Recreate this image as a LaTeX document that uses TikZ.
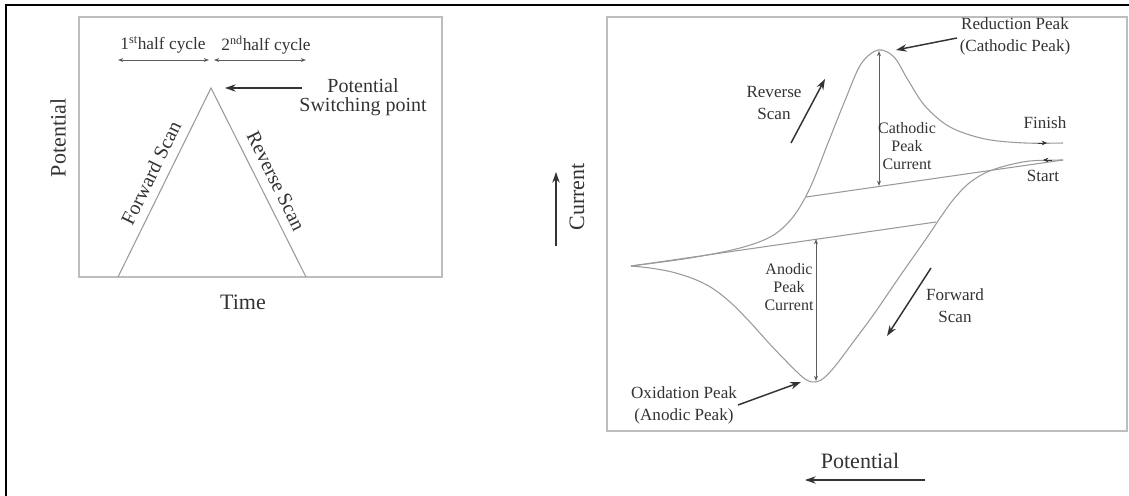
\documentclass[tikz,border=0pt]{standalone}
\usepackage{fontspec}
\setmainfont{Liberation Serif}
\usetikzlibrary{arrows.meta}
\definecolor{txt}{HTML}{333333}
\definecolor{curvec}{HTML}{9A9A9A}
\definecolor{boxc}{HTML}{BDBDBD}
\definecolor{arrc}{HTML}{333333}
\begin{document}
\begin{tikzpicture}[x=0.75pt,y=-0.75pt,
  biglbl/.style={text=txt,font=\fontsize{16.5}{18}\selectfont,inner sep=0},
  midlbl/.style={text=txt,font=\fontsize{15}{14.3}\selectfont,inner sep=0,align=center},
  smllbl/.style={text=txt,font=\fontsize{12.8}{16.5}\selectfont,inner sep=0,align=center},
  tinylbl/.style={text=txt,font=\fontsize{12}{13.5}\selectfont,inner sep=0,align=center},
  hclbl/.style={text=txt,font=\fontsize{13}{14}\selectfont,inner sep=0},
  panelbox/.style={draw=boxc,line width=1.5pt},
  curveline/.style={draw=curvec,line width=0.8pt},
  annot/.style={draw=arrc,line width=1.1pt,-{Stealth[length=8pt,width=5.5pt]}},
  dimarrow/.style={draw=arrc!80!white,line width=0.7pt,{Stealth[length=4pt,width=3pt]}-{Stealth[length=4pt,width=3pt]}},
  smallmark/.style={draw=arrc,line width=0.7pt,-{Stealth[length=4pt,width=3.5pt]}}
]
\useasboundingbox (0,0) rectangle (1129,496);
% outer frame
\draw[black,line width=1.6pt] (6,496) -- (6,5) -- (1129,5);

% ---------------- left panel ----------------
\draw[panelbox] (79,17) rectangle (442,277);
\coordinate (tl) at (118,277);
\coordinate (tt) at (211,88);
\coordinate (tr) at (306,277);
\draw[curveline] (tl) -- (tt) -- (tr);

\coordinate (h1a) at (118,60);
\coordinate (h1b) at (209,60);
\coordinate (h2a) at (214,60);
\coordinate (h2b) at (306,60);
\draw[dimarrow] (h1a) -- (h1b);
\draw[dimarrow] (h2a) -- (h2b);
\node[hclbl] (hc1) at (163,45) {1\textsuperscript{st}half cycle};
\node[hclbl] (hc2) at (266,45) {2\textsuperscript{nd}half cycle};

\node[midlbl] (psp) at (363,97) {Potential\\Switching point};
\coordinate (pspA) at (302,88);
\coordinate (pspB) at (225,88);
\draw[annot] (pspA) -- (pspB);

\node[biglbl,rotate=90] (potl) at (58,138) {Potential};
\node[biglbl] (time) at (243,302) {Time};
\node[midlbl,rotate=63.8] (fwd) at (151,173) {Forward Scan};
\node[midlbl,rotate=-63.8] (rev) at (276,181) {Reverse Scan};

% ---------------- right panel ----------------
\draw[panelbox] (607,17) rectangle (1127,431);

% reverse (upper) branch
\draw[curveline] plot[smooth,tension=0.55] coordinates {
 (631,266) (690,258) (740,248) (772,236) (793,217) (810,188) (828,143) (846,98) (861,64) (878,50) (894,57) (908,80) (925,106) (950,127) (985,139) (1025,143) (1063,143)};
% forward (lower) branch
\draw[curveline] plot[smooth,tension=0.55] coordinates {
 (1063,160) (1030,161) (1005,166) (985,173) (968,184) (953,200) (940,218) (928,236) (900,276) (874,314) (854,341) (836,365) (825,377) (816,382) (805,379) (786,361) (767,341) (749,321) (730,302) (712,288) (694,279) (672,272) (650,268) (631,266)};
% baselines
\coordinate (lp) at (631,266);
\coordinate (ab) at (936,222);
\coordinate (cbL) at (806,197);
\coordinate (cbR) at (1063,160);
\draw[curveline] (lp) -- (ab);
\draw[curveline] (cbL) -- (cbR);

% finish / start marks
\coordinate (finA) at (1038,143);
\coordinate (finB) at (1047,143);
\coordinate (stA) at (1052,160);
\coordinate (stB) at (1043,160);
\draw[smallmark] (finA) -- (finB);
\draw[smallmark] (stA) -- (stB);
\node[smllbl] (fin) at (1045,123) {Finish};
\node[smllbl] (st) at (1043,176) {Start};

% peak current arrows
\coordinate (cpT) at (879,51);
\coordinate (cpB) at (879,186);
\draw[dimarrow] (cpT) -- (cpB);
\node[tinylbl] (cpc) at (907,146) {Cathodic\\Peak\\Current};
\coordinate (apT) at (816,239);
\coordinate (apB) at (816,381);
\draw[dimarrow] (apT) -- (apB);
\node[tinylbl] (apc) at (789,287) {Anodic\\Peak\\Current};

% peak labels
\node[smllbl] (red) at (1015,36) {Reduction Peak\\(Cathodic Peak)};
\coordinate (redA) at (957,38);
\coordinate (redB) at (896,50);
\draw[annot] (redA) -- (redB);

\node[smllbl] (ox) at (684,405) {Oxidation Peak\\(Anodic Peak)};
\coordinate (oxA) at (738,405);
\coordinate (oxB) at (801,382);
\draw[annot] (oxA) -- (oxB);

% scan direction labels
\node[smllbl] (rsc) at (774,103) {Reverse\\Scan};
\coordinate (rsA) at (791,143);
\coordinate (rsB) at (825,79);
\draw[annot] (rsA) -- (rsB);

\node[smllbl] (fsc) at (955,306) {Forward\\Scan};
\coordinate (fsA) at (931,268);
\coordinate (fsB) at (887,336);
\draw[annot] (fsA) -- (fsB);

% axes labels
\node[biglbl,rotate=90] (cur) at (577,197) {Current};
\coordinate (curA) at (556,246);
\coordinate (curB) at (556,172);
\draw[annot,line width=0.9pt] (curA) -- (curB);

\node[biglbl] (potb) at (860,461) {Potential};
\coordinate (potA) at (925,480);
\coordinate (potB) at (805,480);
\draw[annot,line width=0.9pt] (potA) -- (potB);
\end{tikzpicture}
\end{document}
